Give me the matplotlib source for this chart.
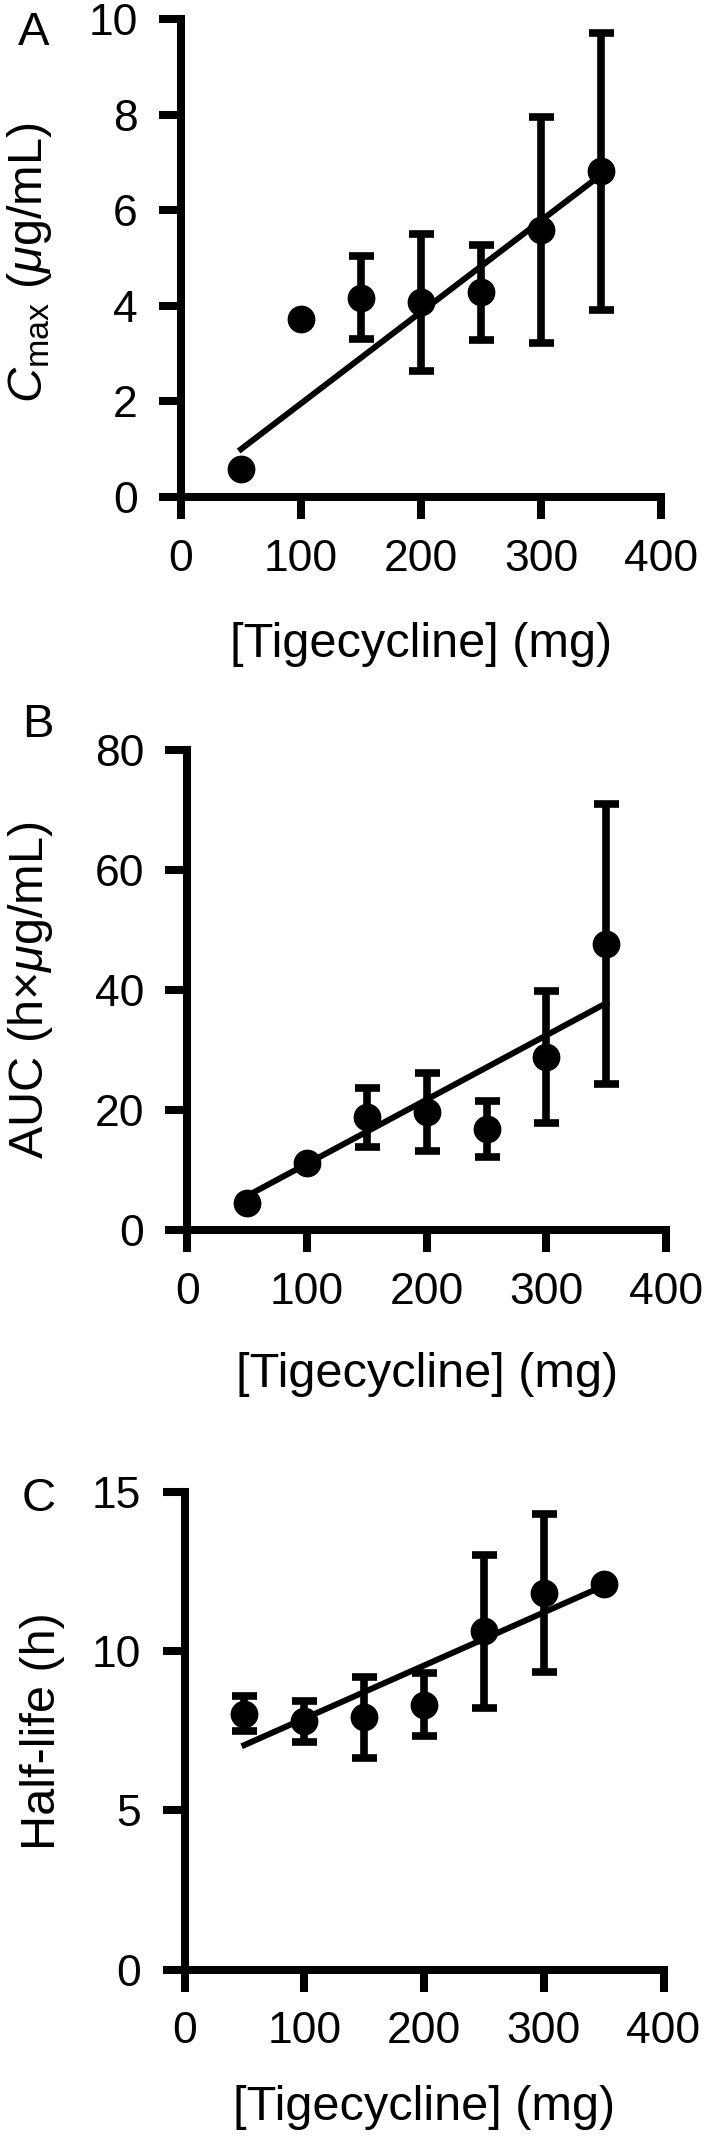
import numpy as np
import matplotlib
matplotlib.use('Agg')
from matplotlib import pyplot as plt

# ----- DATA ----- #
dose = [50, 100, 150, 200, 250, 300, 350]

cmax = [0.58, 3.73, 4.17, 4.07, 4.28, 5.59, 6.81]
cmax_err = [0, 0, 0.87, 1.44, 1.0, 2.36, 2.9]
cmax_fit = [1.0, 6.74]          # fitted line at 50 and 350 mg

auc = [4.5, 11.2, 18.8, 19.7, 16.8, 28.9, 47.7]
auc_err = [0, 0, 4.9, 6.5, 4.7, 11.0, 23.3]
auc_fit = [5.7, 37.8]

half = [8.03, 7.80, 7.92, 8.32, 10.62, 11.83, 12.12]
half_err = [0.55, 0.65, 1.28, 1.0, 2.4, 2.48, 0]
half_fit = [7.05, 12.05]

fit_x = [50, 350]

# ----- STYLE ----- #
plt.rcParams['font.family'] = ['Liberation Sans', 'DejaVu Sans']
plt.rcParams['mathtext.fontset'] = 'custom'
plt.rcParams['mathtext.rm'] = 'Liberation Sans'
plt.rcParams['mathtext.it'] = 'Liberation Sans:italic'
plt.rcParams['mathtext.bf'] = 'Liberation Sans:bold'

fig = plt.figure(figsize=(7.09, 21.38), dpi=100)
H = 2138.0
W = 709.0


def make_ax(left, right, top, bottom):
    return fig.add_axes([left / W, 1 - bottom / H, (right - left) / W, (bottom - top) / H])


# box = (left, right, top, bottom) in pixels
panels = [
    dict(box=(181, 661, 19, 497), y=cmax, err=cmax_err, fit=cmax_fit, ylim=10, yticks=[0, 2, 4, 6, 8, 10],
         ylabel=r'$\mathit{C}_{\mathrm{max}}$ ($\mathit{\mu}$g/mL)', ylc=(-0.29, 0.49), xlc=-0.262,
         letter='A', lpos=(18, 11)),
    dict(box=(187.5, 666, 750, 1230), y=auc, err=auc_err, fit=auc_fit, ylim=80, yticks=[0, 20, 40, 60, 80],
         ylabel=r'AUC (h$\times\mathit{\mu}$g/mL)', ylc=(-0.302, 0.5), xlc=-0.254,
         letter='B', lpos=(22, 703)),
    dict(box=(184.5, 663.5, 1492, 1969.5), y=half, err=half_err, fit=half_fit, ylim=15, yticks=[0, 5, 10, 15],
         ylabel='Half-life (h)', ylc=(-0.27, 0.5), xlc=-0.242,
         letter='C', lpos=(22, 1477)),
]

for p in panels:
    ax = make_ax(*p['box'])
    ax.errorbar(dose, p['y'], yerr=p['err'], fmt='o', color='black', ms=19, elinewidth=5.5,
                capsize=9, capthick=5.5, zorder=3, clip_on=False)
    ax.plot(fit_x, p['fit'], color='black', lw=4.3, zorder=2)

    ax.set_xlim(0, 400)
    ax.set_ylim(0, p['ylim'])
    ax.set_xticks([0, 100, 200, 300, 400])
    ax.set_yticks(p['yticks'])
    for side in ['top', 'right']:
        ax.spines[side].set_visible(False)
    for side in ['left', 'bottom']:
        ax.spines[side].set_linewidth(5.8)
        ax.spines[side].set_capstyle('projecting')
    ax.tick_params(direction='out', length=16, width=5.8, labelsize=32)
    ax.tick_params(axis='x', pad=14)
    ax.tick_params(axis='y', pad=15)

    ax.set_xlabel('[Tigecycline] (mg)', fontsize=35)
    ax.set_ylabel(p['ylabel'], fontsize=35)
    ax.xaxis.set_label_coords(0.5, p['xlc'])
    ax.yaxis.set_label_coords(*p['ylc'])
    ax.yaxis.label.set_verticalalignment('baseline')

    fig.text(p['lpos'][0] / W, 1 - p['lpos'][1] / H, p['letter'], fontsize=34, ha='left', va='top')

plt.savefig('out.png', dpi=100)
